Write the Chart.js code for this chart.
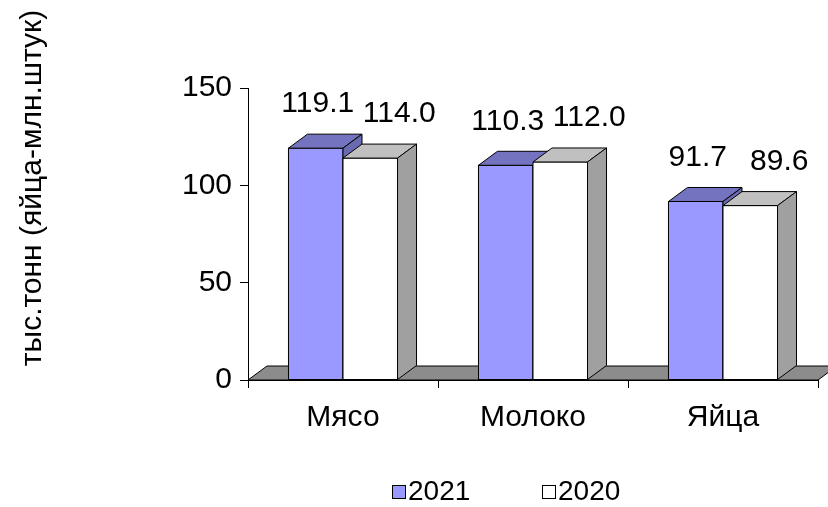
<!DOCTYPE html>
<html>
<head>
<meta charset="utf-8">
<script src="https://cdn.jsdelivr.net/npm/chart.js@4.4.1/dist/chart.umd.min.js"></script>
<style>
  html, body { margin: 0; padding: 0; background: #fff; }
  #wrap { width: 828px; height: 507px; }
</style>
</head>
<body>
<div id="wrap"><canvas id="chart"></canvas></div>
<script>
const categories = ['Мясо', 'Молоко', 'Яйца'];
const values2021 = [119.1, 110.3, 91.7];
const values2020 = [114.0, 112.0, 89.6];
const seriesNames = ['2021', '2020'];
const yMin = 0, yMax = 150, yStep = 50;
const yTitle = 'тыс.тонн (яйца-млн.штук)';

const FONT = 'Arial, "Liberation Sans", sans-serif';
const FSIZE = 30;
const DX = 19, DY = 14;   // depth of the fake 3d
const faceColors = ['#9999FF', '#FFFFFF'];
const topColors = ['#7373BF', '#C0C0C0'];
const sideColors = ['#6A6AB0', '#A0A0A0'];
const labelShift = [2, 29];

function poly(ctx, pts, fill) {
    ctx.beginPath();
    ctx.moveTo(pts[0][0], pts[0][1]);
    for (let i = 1; i < pts.length; i++) ctx.lineTo(pts[i][0], pts[i][1]);
    ctx.closePath();
    ctx.fillStyle = fill;
    ctx.fill();
    ctx.stroke();
}

const bars3d = {
    id: 'bars3d',
    beforeDatasetsDraw(chart) {
        const ctx = chart.ctx, a = chart.chartArea;
        ctx.save();
        ctx.strokeStyle = '#000';
        ctx.lineWidth = 1;
        poly(ctx, [[a.left, a.bottom], [a.right, a.bottom], [a.right + DX, a.bottom - DY], [a.left + DX, a.bottom - DY]], '#8C8C8C');
        ctx.restore();
    },
    afterDatasetsDraw(chart) {
        const ctx = chart.ctx;
        ctx.save();
        ctx.strokeStyle = '#000';
        ctx.lineWidth = 1;
        for (let i = 0; i < categories.length; i++) {
            chart.data.datasets.forEach((ds, d) => {
                const el = chart.getDatasetMeta(d).data[i];
                const l = el.x - el.width / 2, r = el.x + el.width / 2, t = el.y, b = el.base;
                poly(ctx, [[l, t], [r, t], [r, b], [l, b]], faceColors[d]);
                poly(ctx, [[l, t], [r, t], [r + DX, t - DY], [l + DX, t - DY]], topColors[d]);
                poly(ctx, [[r, t], [r + DX, t - DY], [r + DX, b - DY], [r, b]], sideColors[d]);
            });
        }
        ctx.fillStyle = '#000';
        ctx.font = FSIZE + 'px ' + FONT;
        ctx.textAlign = 'center';
        ctx.textBaseline = 'middle';
        chart.data.datasets.forEach((ds, d) => {
            chart.getDatasetMeta(d).data.forEach((el, i) => {
                ctx.fillText(ds.data[i].toFixed(1), el.x + labelShift[d], el.y - DY - 30);
            });
        });
        ctx.restore();
    },
    afterDraw(chart) {
        const ctx = chart.ctx;
        ctx.save();
        ctx.fillStyle = '#000';
        ctx.font = FSIZE + 'px ' + FONT;
        ctx.textAlign = 'center';
        ctx.textBaseline = 'middle';
        ctx.translate(33, 188);
        ctx.rotate(-Math.PI / 2);
        ctx.fillText(yTitle, 0, 0);
        ctx.restore();

        // legend
        ctx.save();
        ctx.font = '28px ' + FONT;
        ctx.textBaseline = 'middle';
        ctx.textAlign = 'left';
        ctx.strokeStyle = '#000';
        ctx.lineWidth = 1;
        const lx = [392, 542];
        seriesNames.forEach((name, d) => {
            ctx.fillStyle = faceColors[d];
            ctx.fillRect(lx[d] + 0.5, 485.5, 13, 13);
            ctx.strokeRect(lx[d] + 0.5, 485.5, 13, 13);
            ctx.fillStyle = '#000';
            ctx.fillText(name, lx[d] + 16, 492);
        });
        ctx.restore();
    }
};

new Chart(document.getElementById('chart'), {
    type: 'bar',
    data: {
        labels: categories,
        datasets: [{
            label: seriesNames[0],
            data: values2021,
            backgroundColor: faceColors[0],
            borderColor: '#000',
            borderWidth: 1,
            categoryPercentage: 0.574,
            barPercentage: 1.0
        },
        {
            label: seriesNames[1],
            data: values2020,
            backgroundColor: faceColors[1],
            borderColor: '#000',
            borderWidth: 1,
            categoryPercentage: 0.574,
            barPercentage: 1.0
        }]
    },
    options: {
        responsive: true,
        maintainAspectRatio: false,
        animation: false,
        layout: { padding: { top: 88, right: 10, left: 0, bottom: 0 } },
        plugins: {
            legend: { display: false },
            tooltip: { enabled: false }
        },
        scales: {
            x: {
                afterFit: s => { s.height = 127; },
                grid: { drawOnChartArea: false, color: '#000', tickLength: 8, offset: true },
                border: { display: true, color: '#000' },
                ticks: { color: '#000', font: { family: FONT, size: FSIZE }, padding: 12 }
            },
            y: {
                min: yMin,
                max: yMax,
                afterFit: s => { s.width = 248; },
                grid: { drawOnChartArea: false, color: '#000', tickLength: 8 },
                border: { display: true, color: '#000' },
                ticks: { stepSize: yStep, color: '#000', font: { family: FONT, size: FSIZE }, padding: 8 }
            }
        }
    },
    plugins: [bars3d]
});
</script>
</body>
</html>
